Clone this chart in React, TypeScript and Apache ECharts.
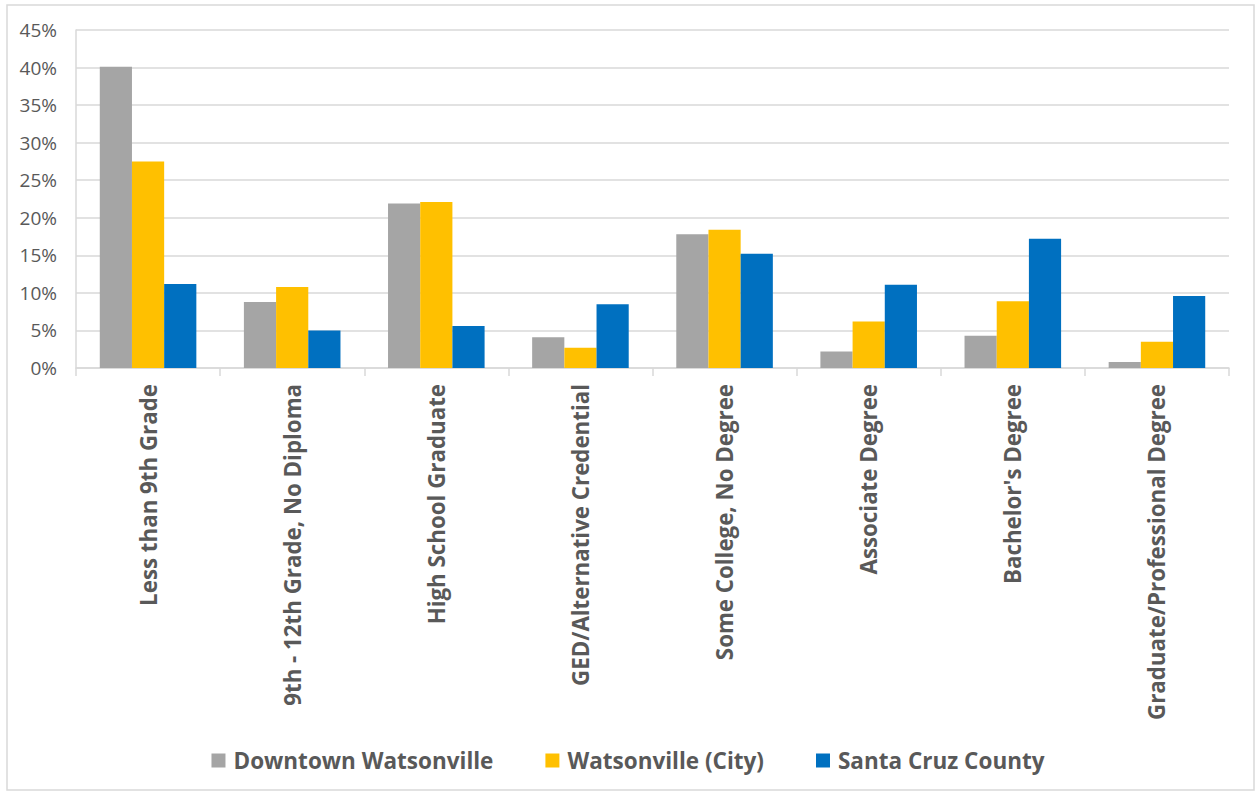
import React, { useEffect, useRef } from "react";
import * as echarts from "echarts";

const categories = [
  "Less than 9th Grade",
  "9th - 12th Grade, No Diploma",
  "High School Graduate",
  "GED/Alternative Credential",
  "Some College, No Degree",
  "Associate Degree",
  "Bachelor's Degree",
  "Graduate/Professional Degree",
];
const downtownWatsonville = [40.1, 8.8, 21.9, 4.1, 17.8, 2.2, 4.3, 0.8];
const watsonvilleCity = [27.5, 10.8, 22.1, 2.7, 18.4, 6.2, 8.9, 3.5];
const santaCruzCounty = [11.2, 5.0, 5.6, 8.5, 15.2, 11.1, 17.2, 9.6];
const seriesNames = ["Downtown Watsonville", "Watsonville (City)", "Santa Cruz County"];
const seriesColors = ["#A5A5A5", "#FFC000", "#0070C0"];

const FONT = "'Open Sans', 'Noto Sans', sans-serif";

export default function App() {
  const ref = useRef<HTMLDivElement>(null);
  useEffect(() => {
    if (!ref.current) return;
    const chart = echarts.init(ref.current, undefined, { renderer: "svg" });
    const data = [downtownWatsonville, watsonvilleCity, santaCruzCounty];
    chart.setOption({
      animation: false,
      backgroundColor: "#ffffff",
      graphic: [
        {
          type: "rect",
          shape: { x: 7, y: 5, width: 1247, height: 785 },
          style: { fill: "none", stroke: "#D9D9D9", lineWidth: 1.5 },
          silent: true,
        },
      ],
      grid: { left: 76, right: 27, top: 30, bottom: 427 },
      legend: {
        bottom: 18,
        left: "center",
        itemWidth: 14,
        itemHeight: 14,
        itemGap: 52,
        icon: "rect",
        textStyle: {
          fontFamily: FONT,
          fontSize: 22.5,
          fontWeight: "bold",
          color: "#595959",
          padding: [0, 0, 0, 3],
        },
        data: seriesNames,
      },
      xAxis: {
        type: "category",
        data: categories,
        axisLine: { show: true, lineStyle: { color: "#D9D9D9", width: 1.5 } },
        axisTick: { show: true, length: 8, lineStyle: { color: "#D9D9D9", width: 1.5 } },
        axisLabel: {
          rotate: 90,
          interval: 0,
          margin: 16,
          fontFamily: FONT,
          fontSize: 22.3,
          fontWeight: "bold",
          color: "#595959",
        },
      },
      yAxis: {
        type: "value",
        min: 0,
        max: 45,
        interval: 5,
        axisLine: { show: true, lineStyle: { color: "#D9D9D9", width: 1.5 } },
        axisTick: { show: false },
        splitLine: { lineStyle: { color: "#D9D9D9", width: 1.5 } },
        axisLabel: {
          formatter: "{value}%",
          fontFamily: FONT,
          fontSize: 19,
          color: "#595959",
          margin: 19,
        },
      },
      series: data.map((d, i) => ({
        name: seriesNames[i],
        type: "bar",
        data: d,
        barGap: "0%",
        barCategoryGap: "33%",
        itemStyle: { color: seriesColors[i] },
      })),
    });
    return () => chart.dispose();
  }, []);
  return (
    <div
      ref={ref}
      style={{ position: "absolute", left: 0, top: 0, width: 1256, height: 795 }}
    />
  );
}
